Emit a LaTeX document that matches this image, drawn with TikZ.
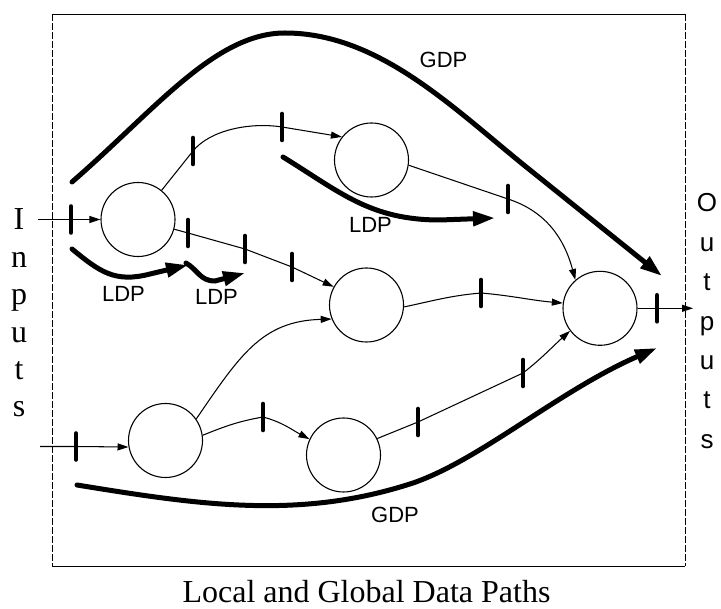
\documentclass[tikz,border=0pt]{standalone}
\usepackage{fontspec}
\setmainfont{Liberation Serif}
\newfontfamily\labelfont{Liberation Sans}
\usetikzlibrary{arrows.meta}
\begin{document}
\begin{tikzpicture}[x=1pt,y=-1pt,
  stage/.style={circle,draw,line width=1.1pt,minimum size=74pt,inner sep=0pt},
  wire/.style={line width=1.05pt,-{Triangle[length=11pt,width=7pt]}},
  regbar/.style={line width=4.6pt,line cap=round},
  datapath/.style={line width=5pt,line cap=round,-{Triangle[length=22pt,width=14pt]}},
  frameline/.style={line width=0.9pt},
  pathlabel/.style={font=\labelfont\fontsize{22}{22}\selectfont,anchor=base,inner sep=0pt},
  inletter/.style={font=\fontsize{32}{32}\selectfont,anchor=base,inner sep=0pt},
  outletter/.style={font=\labelfont\fontsize{26}{26}\selectfont,anchor=base,inner sep=0pt}]
\useasboundingbox (0,0) rectangle (721,609);

% enclosing frame
\draw[frameline] (52,14) -- (685,14);
\draw[frameline] (52,566) -- (685,566);
\draw[frameline,dash pattern=on 7pt off 2pt] (52,14) -- (52,566);
\draw[frameline,dash pattern=on 7pt off 2pt] (685,14) -- (685,566);

% processing stages
\node[stage] (A) at (138,219.5) {};
\node[stage] (B) at (371.5,160) {};
\node[stage] (C) at (366.5,305) {};
\node[stage] (D) at (600,308.3) {};
\node[stage] (E) at (165.5,440.5) {};
\node[stage] (F) at (343.5,455) {};

% free ends of the input and output wires
\coordinate (in1) at (38,219.5);
\coordinate (in2) at (40,446.5);
\coordinate (outend) at (693,308.3);

% register positions along the wires
\coordinate (k1) at (71,219.5);
\coordinate (k2) at (193,151);
\coordinate (k3) at (282,127);
\coordinate (k4) at (188,233);
\coordinate (k5) at (245,249);
\coordinate (k6) at (292,267);
\coordinate (k7) at (508,199);
\coordinate (k8) at (481,293);
\coordinate (k9) at (76,446.5);
\coordinate (k10) at (263,417);
\coordinate (k11) at (418,422);
\coordinate (k12) at (523,373);
\coordinate (k13) at (657,308.3);

% wires between stages
\draw[wire] (in1) -- (k1) -- (A);
\draw[wire] (A.51) -- (k2) .. controls (210,130) and (250,122) .. (k3) -- (B.142);
\draw[wire] (A.-15) -- (k4) -- (k5) -- (k6) -- (C.151);
\draw[wire] (B.-8) -- (k7) to[out=-18,in=105] (D.131);
\draw[wire] (C.-3) to[out=12,in=185] (k8) to[out=-5,in=175] (D.172);
\draw[wire] (E.35) .. controls (240,355) and (262,321) .. (C.202);
\draw[wire] (in2) -- (k9) -- (E.190);
\draw[wire] (E.8) to[out=22,in=190] (k10) to[out=-15,in=152] (F.155);
\draw[wire] (F.26) -- (k11) -- (k12) to[out=38,in=222] (D.217);
\draw[wire] (D.0) -- (k13) -- (outend);

% registers
\foreach \k in {k1,k2,k3,k4,k5,k6,k7,k8,k9,k10,k11,k12,k13}
  \draw[regbar] ([yshift=13pt]\k) -- ([yshift=-13pt]\k);

% global and local data paths
\coordinate (g1a) at (72,182);
\coordinate (g1b) at (662,276);
\coordinate (g2a) at (77,485);
\coordinate (g2b) at (657,348);
\coordinate (l1a) at (283,157);
\coordinate (l1b) at (495,218);
\coordinate (l2a) at (72,249);
\coordinate (l2b) at (188,265);
\coordinate (l3a) at (186,263);
\coordinate (l3b) at (245,273);

\draw[datapath] (g1a) .. controls (155,110) and (215,33) .. (285,33)
  .. controls (380,33) and (455,110) .. (530,170) -- (g1b);
\draw[datapath] (g2a) .. controls (200,505) and (300,520) .. (413,483)
  .. controls (480,460) and (560,390) .. (g2b);
\draw[datapath] (l1a) .. controls (340,192) and (370,220) .. (440,220) -- (l1b);
\draw[datapath] (l2a) .. controls (100,272) and (115,283) .. (150,274) -- (l2b);
\draw[datapath] (l3a) .. controls (198,270) and (200,281) .. (215,281) -- (l3b);

% path labels
\node[pathlabel] (gdptop) at (443.5,68) {GDP};
\node[pathlabel] (gdpbot) at (395,523) {GDP};
\node[pathlabel] (ldpmid) at (370.5,233) {LDP};
\node[pathlabel] (ldpa) at (123.5,302) {LDP};
\node[pathlabel] (ldpb) at (216.5,305) {LDP};

% vertical side captions
\foreach \ch [count=\i from 0] in {I,n,p,u,t,s}
  \node[inletter] (inl-\i) at (19,230+37.4*\i) {\ch};
\foreach \ch [count=\i from 0] in {O,u,t,p,u,t,s}
  \node[outletter] (outl-\i) at (707,212+39.4*\i) {\ch};

% title
\node[font=\fontsize{32}{32}\selectfont,anchor=base,inner sep=0pt] (title) at (366.5,603) {Local and Global Data Paths};
\end{tikzpicture}
\end{document}
